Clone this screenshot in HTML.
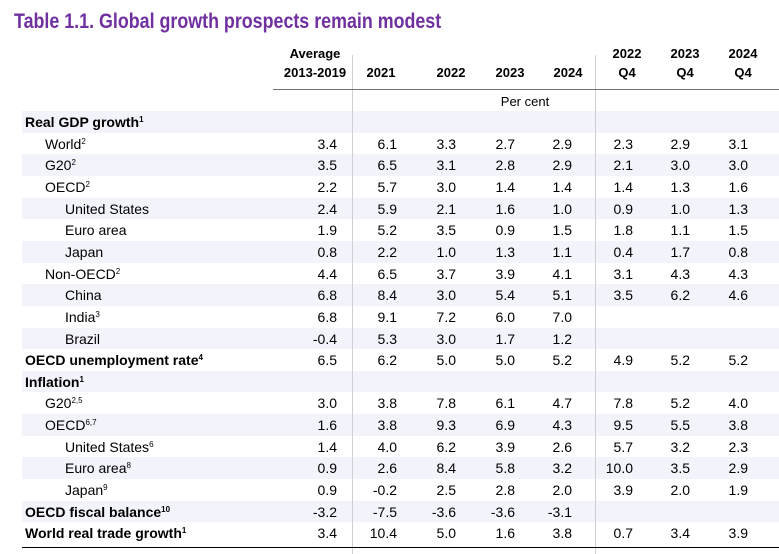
<!DOCTYPE html>
<html><head><meta charset="utf-8"><style>
body{margin:0;width:779px;height:554px;background:#fff;position:relative;overflow:hidden;font-family:"Liberation Sans",Arial,sans-serif;color:#000}
.a{position:absolute;white-space:nowrap;font-size:14px;line-height:16px}
.b{font-weight:bold}
.r{text-align:right}
.c{text-align:center}
sup{font-size:8px;vertical-align:5px;line-height:0}
</style></head><body>
<div class="a b" style="left:14px;top:9px;font-size:21px;line-height:26px;color:#7030a0;transform:scaleX(0.85);transform-origin:0 0;">Table 1.1. Global growth prospects remain modest</div>
<div id="t"></div>
<script>
var labels=["Real GDP growth<sup>1</sup>","World<sup>2</sup>","G20<sup>2</sup>","OECD<sup>2</sup>","United States","Euro area","Japan","Non-OECD<sup>2</sup>","China","India<sup>3</sup>","Brazil","OECD unemployment rate<sup>4</sup>","Inflation<sup>1</sup>","G20<sup>2,5</sup>","OECD<sup>6,7</sup>","United States<sup>6</sup>","Euro area<sup>8</sup>","Japan<sup>9</sup>","OECD fiscal balance<sup>10</sup>","World real trade growth<sup>1</sup>"];
var levels=[0,1,1,1,2,2,2,1,2,2,2,0,0,1,1,2,2,2,0,0];
var bolds=[1,0,0,0,0,0,0,0,0,0,0,1,1,0,0,0,0,0,1,1];
var values=[
[],
["3.4","6.1","3.3","2.7","2.9","2.3","2.9","3.1"],
["3.5","6.5","3.1","2.8","2.9","2.1","3.0","3.0"],
["2.2","5.7","3.0","1.4","1.4","1.4","1.3","1.6"],
["2.4","5.9","2.1","1.6","1.0","0.9","1.0","1.3"],
["1.9","5.2","3.5","0.9","1.5","1.8","1.1","1.5"],
["0.8","2.2","1.0","1.3","1.1","0.4","1.7","0.8"],
["4.4","6.5","3.7","3.9","4.1","3.1","4.3","4.3"],
["6.8","8.4","3.0","5.4","5.1","3.5","6.2","4.6"],
["6.8","9.1","7.2","6.0","7.0","","",""],
["-0.4","5.3","3.0","1.7","1.2","","",""],
["6.5","6.2","5.0","5.0","5.2","4.9","5.2","5.2"],
[],
["3.0","3.8","7.8","6.1","4.7","7.8","5.2","4.0"],
["1.6","3.8","9.3","6.9","4.3","9.5","5.5","3.8"],
["1.4","4.0","6.2","3.9","2.6","5.7","3.2","2.3"],
["0.9","2.6","8.4","5.8","3.2","10.0","3.5","2.9"],
["0.9","-0.2","2.5","2.8","2.0","3.9","2.0","1.9"],
["-3.2","-7.5","-3.6","-3.6","-3.1","","",""],
["3.4","10.4","5.0","1.6","3.8","0.7","3.4","3.9"]];
var colRight=[337,397,456,515,572,633,690,748];
var t=document.getElementById('t');
function add(html,cls,style){var d=document.createElement('div');d.className='a '+cls;d.setAttribute('style',style);d.innerHTML=html;t.appendChild(d);return d;}
var y0=111,rh=21.65;
for(var i=0;i<labels.length;i++){
 var y=y0+i*rh;
 if(i%2==0){var s=add('','', 'left:22px;top:'+y+'px;width:757px;height:'+rh+'px;background:#f3f4fb');
 
 }
}
var v1=add('','','left:352px;top:55px;width:1px;height:499px;background:#d0d0d0');


var v2=add('','','left:595px;top:55px;width:1px;height:499px;background:#d0d0d0');


var h1=add('','','left:273px;top:89px;width:506px;height:1px;background:#707070');


var h2=add('','','left:22px;top:547px;width:757px;height:1px;background:#000');


var hd=[["Average","2013-2019"],["","2021"],["","2022"],["","2023"],["","2024"],["2022","Q4"],["2023","Q4"],["2024","Q4"]];
var hcx=[315,381,451,510,568,627,685,743];
for(var j=0;j<hd.length;j++){
 var e=add(hd[j][0]+'<br>'+hd[j][1],'b c','left:'+(hcx[j]-50)+'px;top:44px;width:100px;font-size:13px;line-height:19px');
 
 
}
var pc=add('Per cent','c','left:475px;top:94px;width:100px;font-size:13px');


var ind=[25,45,65];
for(var i=0;i<labels.length;i++){
 var y=y0+i*rh+3;
 var l=add(labels[i],bolds[i]?'b':'','left:'+ind[levels[i]]+'px;top:'+y+'px');
 
 
 for(var j=0;j<values[i].length;j++){
  if(!values[i][j])continue;
  var c=add(values[i][j],'r','left:'+(colRight[j]-60)+'px;top:'+y+'px;width:60px');
  
  
 }
}
</script>
</body></html>
